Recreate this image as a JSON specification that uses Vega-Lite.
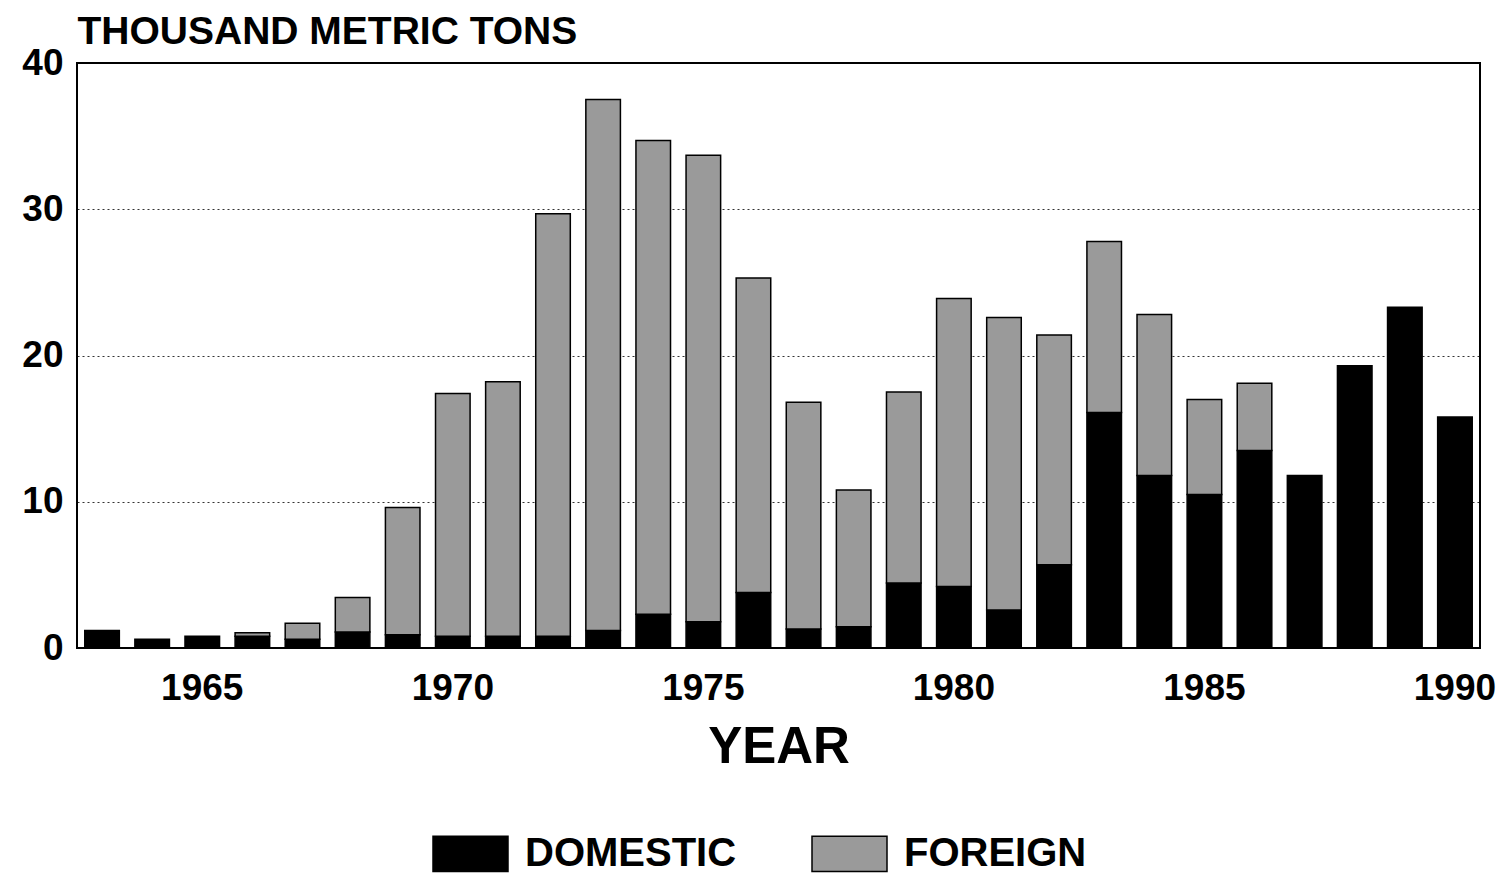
{
  "$schema": "https://vega.github.io/schema/vega-lite/v6.json",
  "width": 1403,
  "height": 585,
  "autosize": "none",
  "padding": {"left": 77, "top": 63, "right": 27, "bottom": 227},
  "background": "white",
  "config": {
    "font": "Liberation Sans",
    "view": {"stroke": "black", "strokeWidth": 2}
  },
  "data": {
    "values": [
      {"year": 1963, "type": "DOMESTIC", "value": 1.2},
      {"year": 1964, "type": "DOMESTIC", "value": 0.6},
      {"year": 1965, "type": "DOMESTIC", "value": 0.8},
      {"year": 1966, "type": "DOMESTIC", "value": 0.8},
      {"year": 1966, "type": "FOREIGN", "value": 0.25},
      {"year": 1967, "type": "DOMESTIC", "value": 0.6},
      {"year": 1967, "type": "FOREIGN", "value": 1.1},
      {"year": 1968, "type": "DOMESTIC", "value": 1.1},
      {"year": 1968, "type": "FOREIGN", "value": 2.35},
      {"year": 1969, "type": "DOMESTIC", "value": 0.9},
      {"year": 1969, "type": "FOREIGN", "value": 8.7},
      {"year": 1970, "type": "DOMESTIC", "value": 0.8},
      {"year": 1970, "type": "FOREIGN", "value": 16.6},
      {"year": 1971, "type": "DOMESTIC", "value": 0.8},
      {"year": 1971, "type": "FOREIGN", "value": 17.4},
      {"year": 1972, "type": "DOMESTIC", "value": 0.8},
      {"year": 1972, "type": "FOREIGN", "value": 28.9},
      {"year": 1973, "type": "DOMESTIC", "value": 1.2},
      {"year": 1973, "type": "FOREIGN", "value": 36.3},
      {"year": 1974, "type": "DOMESTIC", "value": 2.3},
      {"year": 1974, "type": "FOREIGN", "value": 32.4},
      {"year": 1975, "type": "DOMESTIC", "value": 1.8},
      {"year": 1975, "type": "FOREIGN", "value": 31.9},
      {"year": 1976, "type": "DOMESTIC", "value": 3.8},
      {"year": 1976, "type": "FOREIGN", "value": 21.5},
      {"year": 1977, "type": "DOMESTIC", "value": 1.3},
      {"year": 1977, "type": "FOREIGN", "value": 15.5},
      {"year": 1978, "type": "DOMESTIC", "value": 1.45},
      {"year": 1978, "type": "FOREIGN", "value": 9.35},
      {"year": 1979, "type": "DOMESTIC", "value": 4.45},
      {"year": 1979, "type": "FOREIGN", "value": 13.05},
      {"year": 1980, "type": "DOMESTIC", "value": 4.2},
      {"year": 1980, "type": "FOREIGN", "value": 19.7},
      {"year": 1981, "type": "DOMESTIC", "value": 2.6},
      {"year": 1981, "type": "FOREIGN", "value": 20.0},
      {"year": 1982, "type": "DOMESTIC", "value": 5.7},
      {"year": 1982, "type": "FOREIGN", "value": 15.7},
      {"year": 1983, "type": "DOMESTIC", "value": 16.1},
      {"year": 1983, "type": "FOREIGN", "value": 11.7},
      {"year": 1984, "type": "DOMESTIC", "value": 11.8},
      {"year": 1984, "type": "FOREIGN", "value": 11.0},
      {"year": 1985, "type": "DOMESTIC", "value": 10.5},
      {"year": 1985, "type": "FOREIGN", "value": 6.5},
      {"year": 1986, "type": "DOMESTIC", "value": 13.5},
      {"year": 1986, "type": "FOREIGN", "value": 4.6},
      {"year": 1987, "type": "DOMESTIC", "value": 11.8},
      {"year": 1988, "type": "DOMESTIC", "value": 19.3},
      {"year": 1989, "type": "DOMESTIC", "value": 23.3},
      {"year": 1990, "type": "DOMESTIC", "value": 15.8}
    ]
  },
  "mark": {"type": "bar", "stroke": "black", "strokeWidth": 1.5},
  "encoding": {
    "x": {
      "field": "year",
      "type": "ordinal",
      "scale": {"paddingInner": 0.31, "paddingOuter": 0.155},
      "axis": {
        "title": "YEAR",
        "titleFontSize": 51,
        "titleFontWeight": "bold",
        "titleColor": "black",
        "titlePadding": 16,
        "labelExpr": "datum.value % 5 == 0 ? datum.label : ''",
        "labelAngle": 0,
        "labelFontSize": 37,
        "labelFontWeight": "bold",
        "labelColor": "black",
        "labelPadding": 22,
        "ticks": false,
        "domain": false,
        "grid": false
      }
    },
    "y": {
      "field": "value",
      "type": "quantitative",
      "stack": "zero",
      "scale": {"domain": [0, 40], "nice": false},
      "axis": {
        "title": "THOUSAND METRIC TONS",
        "titleAngle": 0,
        "titleAlign": "left",
        "titleBaseline": "alphabetic",
        "titleX": 0,
        "titleY": -20,
        "titleFontSize": 39,
        "titleFontWeight": "bold",
        "titleColor": "black",
        "values": [0, 10, 20, 30, 40],
        "labelFontSize": 37,
        "labelFontWeight": "bold",
        "labelColor": "black",
        "labelPadding": 14,
        "ticks": false,
        "domain": false,
        "grid": true,
        "gridColor": "black",
        "gridDash": [2, 3],
        "gridWidth": 1,
        "gridOpacity": 0.8
      }
    },
    "color": {
      "field": "type",
      "type": "nominal",
      "scale": {"domain": ["DOMESTIC", "FOREIGN"], "range": ["black", "#9a9a9a"]},
      "legend": {
        "title": null,
        "orient": "none",
        "direction": "horizontal",
        "legendX": 355,
        "legendY": 752,
        "symbolType": "M-1,-0.47H1V0.47H-1Z",
        "symbolSize": 5625,
        "symbolStrokeColor": "black",
        "symbolStrokeWidth": 1.5,
        "symbolOpacity": 1,
        "labelFontSize": 40,
        "labelFontWeight": "bold",
        "labelColor": "black",
        "labelOffset": 16,
        "columnPadding": 72,
        "labelLimit": 400
      }
    },
    "order": {"field": "type", "sort": "ascending"}
  }
}
